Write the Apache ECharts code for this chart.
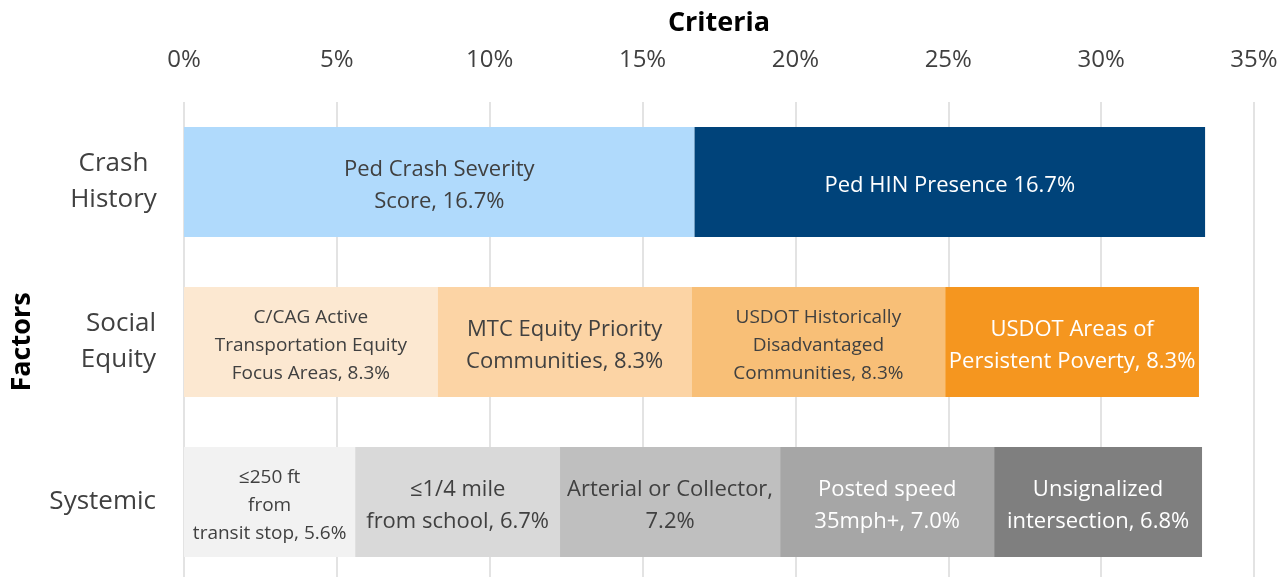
<!DOCTYPE html>
<html>
<head>
<meta charset="utf-8">
<script src="https://cdn.jsdelivr.net/npm/echarts@6/dist/echarts.min.js"></script>
<style>
  html, body { margin: 0; padding: 0; background: #fff; }
  #chart { width: 1287px; height: 577px; }
</style>
</head>
<body>
<div id="chart"></div>
<script>
// Factor groups (rows, top to bottom)
const factors = ['Crash History', 'Social Equity', 'Systemic'];
const factorLabels = ['{c|Crash}\n{c|History}', 'Social\nEquity', 'Systemic'];

// Criteria weights (%) per factor, left to right
const crashValues = [16.7, 16.7];
const crashNames = ['Ped Crash Severity\nScore, 16.7%', 'Ped HIN Presence 16.7%'];
const crashColors = ['#b0dafc', '#00437a'];
const crashText = ['#404040', '#ffffff'];

const equityValues = [8.3, 8.3, 8.3, 8.3];
const equityNames = [
  'C/CAG Active\nTransportation Equity\nFocus Areas, 8.3%',
  'MTC Equity Priority\nCommunities, 8.3%',
  'USDOT Historically\nDisadvantaged\nCommunities, 8.3%',
  'USDOT Areas of\nPersistent Poverty, 8.3%'
];
const equityColors = ['#fce8d1', '#fcd4a5', '#f8bf77', '#f5961f'];
const equityText = ['#404040', '#404040', '#404040', '#ffffff'];

const systemicValues = [5.6, 6.7, 7.2, 7.0, 6.8];
const systemicNames = [
  '≤250 ft\nfrom\ntransit stop, 5.6%',
  '≤1/4 mile\nfrom school, 6.7%',
  'Arterial or Collector,\n7.2%',
  'Posted speed\n35mph+, 7.0%',
  'Unsignalized\nintersection, 6.8%'
];
const systemicColors = ['#f2f2f2', '#d9d9d9', '#bfbfbf', '#a6a6a6', '#7f7f7f'];
const systemicText = ['#404040', '#404040', '#404040', '#ffffff', '#ffffff'];

// Axis ticks
const xMin = 0, xMax = 35, xStep = 5;

const FONT = "'Open Sans', 'Noto Sans', sans-serif";

// Smaller type for the three-line labels
function labelSize(name) {
  return name.split('\n').length >= 3 ? 19 : 22;
}
function lineHeight(name) {
  return name.split('\n').length >= 3 ? 28 : 32;
}

function makeSeries(rowIndex, values, names, colors, textColors) {
  return values.map((v, i) => {
    const data = factors.map((_, r) => (r === rowIndex ? v : '-'));
    return {
      type: 'bar',
      stack: 'total',
      name: names[i],
      barWidth: 110,
      data: data,
      itemStyle: { color: colors[i] },
      label: {
        show: true,
        position: 'inside',
        offset: [0, 4],
        formatter: () => names[i],
        color: textColors[i],
        fontFamily: FONT,
        fontSize: labelSize(names[i]),
        lineHeight: lineHeight(names[i]),
        align: 'center',
        overflow: 'none'
      },
      emphasis: { disabled: true }
    };
  });
}

const series = [
  ...makeSeries(0, crashValues, crashNames, crashColors, crashText),
  ...makeSeries(1, equityValues, equityNames, equityColors, equityText),
  ...makeSeries(2, systemicValues, systemicNames, systemicColors, systemicText)
];

const chart = echarts.init(document.getElementById('chart'), null, { renderer: 'canvas' });
chart.setOption({
  animation: false,
  backgroundColor: '#ffffff',
  grid: {
    left: 184, right: 33, top: 102, height: 480,
    containLabel: false,
    outerBoundsMode: 'none'
  },
  xAxis: {
    type: 'value',
    position: 'top',
    min: xMin,
    max: xMax,
    interval: xStep,
    name: 'Criteria',
    nameLocation: 'middle',
    nameGap: 65,
    nameTextStyle: { fontFamily: FONT, fontSize: 27, fontWeight: 'bold', color: '#000' },
    axisLine: { show: false },
    axisTick: { show: false },
    axisLabel: {
      formatter: '{value}%',
      margin: 30,
      fontFamily: FONT,
      fontSize: 24,
      color: '#404040'
    },
    splitLine: { show: true, lineStyle: { color: '#e3e3e3', width: 2 } }
  },
  yAxis: {
    type: 'category',
    data: factors,
    inverse: true,
    name: 'Factors',
    nameLocation: 'middle',
    nameGap: 148,
    nameRotate: 90,
    nameTextStyle: { fontFamily: FONT, fontSize: 27, fontWeight: 'bold', color: '#000' },
    axisLine: { show: false },
    axisTick: { show: false },
    axisLabel: {
      margin: 28,
      fontFamily: FONT,
      fontSize: 26,
      lineHeight: 36,
      color: '#404040',
      align: 'right',
      formatter: (value, idx) => factorLabels[idx],
      rich: {
        c: { width: 85, align: 'center', fontFamily: FONT, fontSize: 26, lineHeight: 36, color: '#404040' }
      }
    },
    splitLine: { show: false }
  },
  series: series
});
</script>
</body>
</html>
